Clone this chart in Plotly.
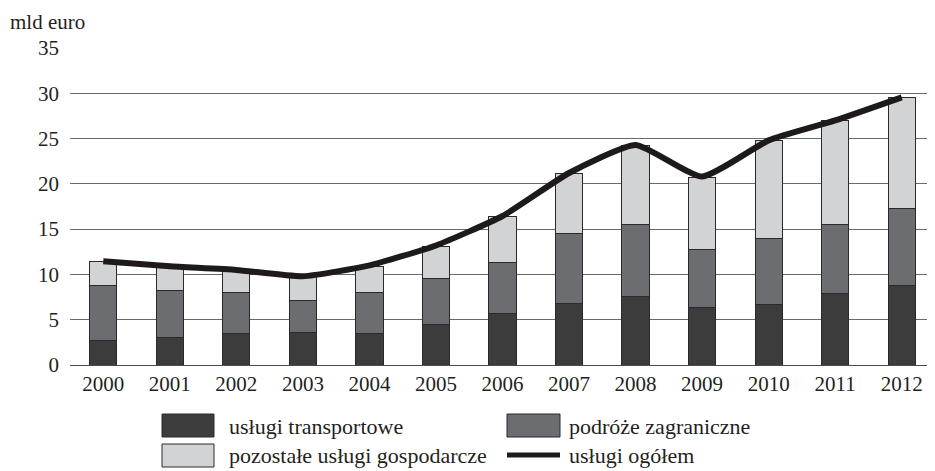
import plotly.graph_objects as go

years = ["2000", "2001", "2002", "2003", "2004", "2005", "2006", "2007", "2008", "2009", "2010", "2011", "2012"]
transport = [2.68, 3.05, 3.5, 3.57, 3.45, 4.5, 5.67, 6.8, 7.55, 6.33, 6.73, 7.9, 8.75]
travel = [6.15, 5.23, 4.52, 3.6, 4.57, 5.0, 5.63, 7.7, 7.95, 6.44, 7.22, 7.66, 8.5]
other = [2.57, 2.57, 2.43, 2.58, 2.88, 3.6, 5.1, 6.6, 8.7, 7.93, 10.8, 11.44, 12.25]
total = [11.45, 10.9, 10.5, 9.8, 11.0, 13.2, 16.45, 21.2, 24.3, 20.8, 24.8, 27.0, 29.55]

names = ["usługi transportowe", "podróże zagraniczne", "pozostałe usługi gospodarcze", "usługi ogółem"]
colors = ["#3c3c3c", "#6c6d70", "#d2d3d5", "#1e1a1b"]
y_ticks = [0, 5, 10, 15, 20, 25, 30, 35]
unit_label = "mld euro"

FONT = "Liberation Serif"
TXT = "#231f20"

fig = go.Figure()
for vals, nm, col in zip([transport, travel, other], names[:3], colors[:3]):
    fig.add_trace(go.Bar(x=years, y=vals, name=nm, marker=dict(color=col, line=dict(color="#2a2a2a", width=1)),
                         showlegend=False))
fig.add_trace(go.Scatter(x=years, y=total, name=names[3], mode="lines",
                         line=dict(color=colors[3], width=6, shape="spline", smoothing=0.5), showlegend=False))

# page offset (body margin) of 8px
OFF = 8
W, H = 935 - OFF, 471 - OFF
# plot area in page px: x 70..935, y 48..365
L, R, T, B = 70, 935, 48, 365
def px(xp):
    return (xp - L) / (R - L)
def py(yp):
    return (B - yp) / (B - T)

shapes = []
annotations = []
legend_items = [
    (162, 214, 414, 437, 227, 426, 0, "box"),
    (507, 560, 414, 437, 567, 426, 1, "box"),
    (162, 214, 444, 467, 227, 455, 2, "box"),
    (507, 560, 455, 455, 567, 455, 3, "line"),
]
for x0, x1, y0, y1, tx, ty, idx, kind in legend_items:
    if kind == "box":
        shapes.append(dict(type="rect", xref="paper", yref="paper", x0=px(x0), x1=px(x1), y0=py(y0), y1=py(y1),
                           fillcolor=colors[idx], line=dict(color="#2a2a2a", width=1)))
    else:
        shapes.append(dict(type="line", xref="paper", yref="paper", x0=px(x0), x1=px(x1), y0=py(y0), y1=py(y1),
                           line=dict(color=colors[idx], width=5)))
    annotations.append(dict(text=names[idx], xref="paper", yref="paper", x=px(tx), y=py(ty), xanchor="left",
                            yanchor="middle", showarrow=False, font=dict(family=FONT, size=22, color=TXT)))

annotations.append(dict(text=unit_label, xref="paper", yref="paper", x=px(8), y=py(22), xanchor="left",
                        yanchor="middle", showarrow=False, font=dict(family=FONT, size=21, color=TXT)))

fig.update_layout(
    width=W, height=H,
    margin=dict(l=L - OFF, r=935 - R, t=T - OFF, b=471 - B),
    paper_bgcolor="white", plot_bgcolor="white",
    barmode="stack", bargap=0.59,
    font=dict(family=FONT, size=21, color=TXT),
    shapes=shapes, annotations=annotations,
    showlegend=False,
)
fig.update_xaxes(showgrid=False, showline=False, ticks="", tickfont=dict(family=FONT, size=21, color=TXT),
                 ticklabelstandoff=4)
fig.update_yaxes(range=[0, 35], tickvals=y_ticks, showgrid=True, gridcolor="#6a6a6a", gridwidth=1.2,
                 zeroline=True, zerolinecolor="#4a4a4a", zerolinewidth=1.2, showline=False, ticks="",
                 tickfont=dict(family=FONT, size=21, color=TXT), ticklabelstandoff=10)

fig.write_html("out.html")
